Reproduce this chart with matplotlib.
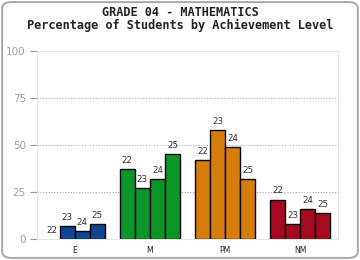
import numpy as np
import matplotlib
matplotlib.use('Agg')
import matplotlib.pyplot as plt
from matplotlib.patches import FancyBboxPatch

levels = ['E', 'M', 'PM', 'NM']
years = ['22', '23', '24', '25']
# percentage per level, one value per year
vals = {
    'E': [0, 7, 4, 8],
    'M': [37, 27, 32, 45],
    'PM': [42, 58, 49, 32],
    'NM': [21, 8, 16, 14],
}
colors = ['#0e4691', '#0c962a', '#d67c0a', '#a50a20']

fig = plt.figure(figsize=(3.6, 2.6), dpi=100)
fig.patch.set_facecolor('white')
fig.patches.append(FancyBboxPatch((0.006, 0.008), 0.988, 0.984,
                                  boxstyle='round,pad=0,rounding_size=0.025',
                                  transform=fig.transFigure, fill=False,
                                  edgecolor='#a8a8a8', linewidth=1.4))

ax = fig.add_axes([0.1028, 0.0808, 0.8361, 0.723])
x = np.arange(len(levels))
w = 0.2
for i, lv in enumerate(levels):
    for j, yr in enumerate(years):
        xp = x[i] + (j - 1.5) * w
        v = vals[lv][j]
        ax.bar(xp, v, width=w, color=colors[i], edgecolor='black',
               linewidth=1.0 if v > 0 else 0)
        ax.annotate(yr, (xp, v), xytext=(0, 3), textcoords='offset points',
                    ha='center', va='bottom', fontsize=6.3, color='#333333')

ax.set_xlim(-0.5, 3.5)
ax.set_ylim(0, 100)
ax.set_yticks([0, 25, 50, 75, 100])
ax.set_xticks(x)
ax.set_xticklabels(levels, fontsize=5.5, color='#222222')
ax.tick_params(axis='x', length=0, pad=5)
ax.tick_params(axis='y', length=5, color='#999999', labelcolor='#a0a0a0', labelsize=7.5, pad=3)
for s in ax.spines.values():
    s.set_color('#e6e6e6')
    s.set_linewidth(0.8)
for gy in [25, 50, 75]:
    ax.axhline(gy, color='#aaaaaa', linestyle=(0, (1, 1.5)), linewidth=0.8, zorder=0)

fig.text(0.5, 0.951, 'GRADE 04 - MATHEMATICS', ha='center', va='center',
         fontsize=8.6, fontweight='bold', family='DejaVu Sans Mono', color='#222222')
fig.text(0.5, 0.903, 'Percentage of Students by Achievement Level', ha='center', va='center',
         fontsize=8.6, fontweight='bold', family='DejaVu Sans Mono', color='#222222')

fig.savefig('out.png', dpi=100)
